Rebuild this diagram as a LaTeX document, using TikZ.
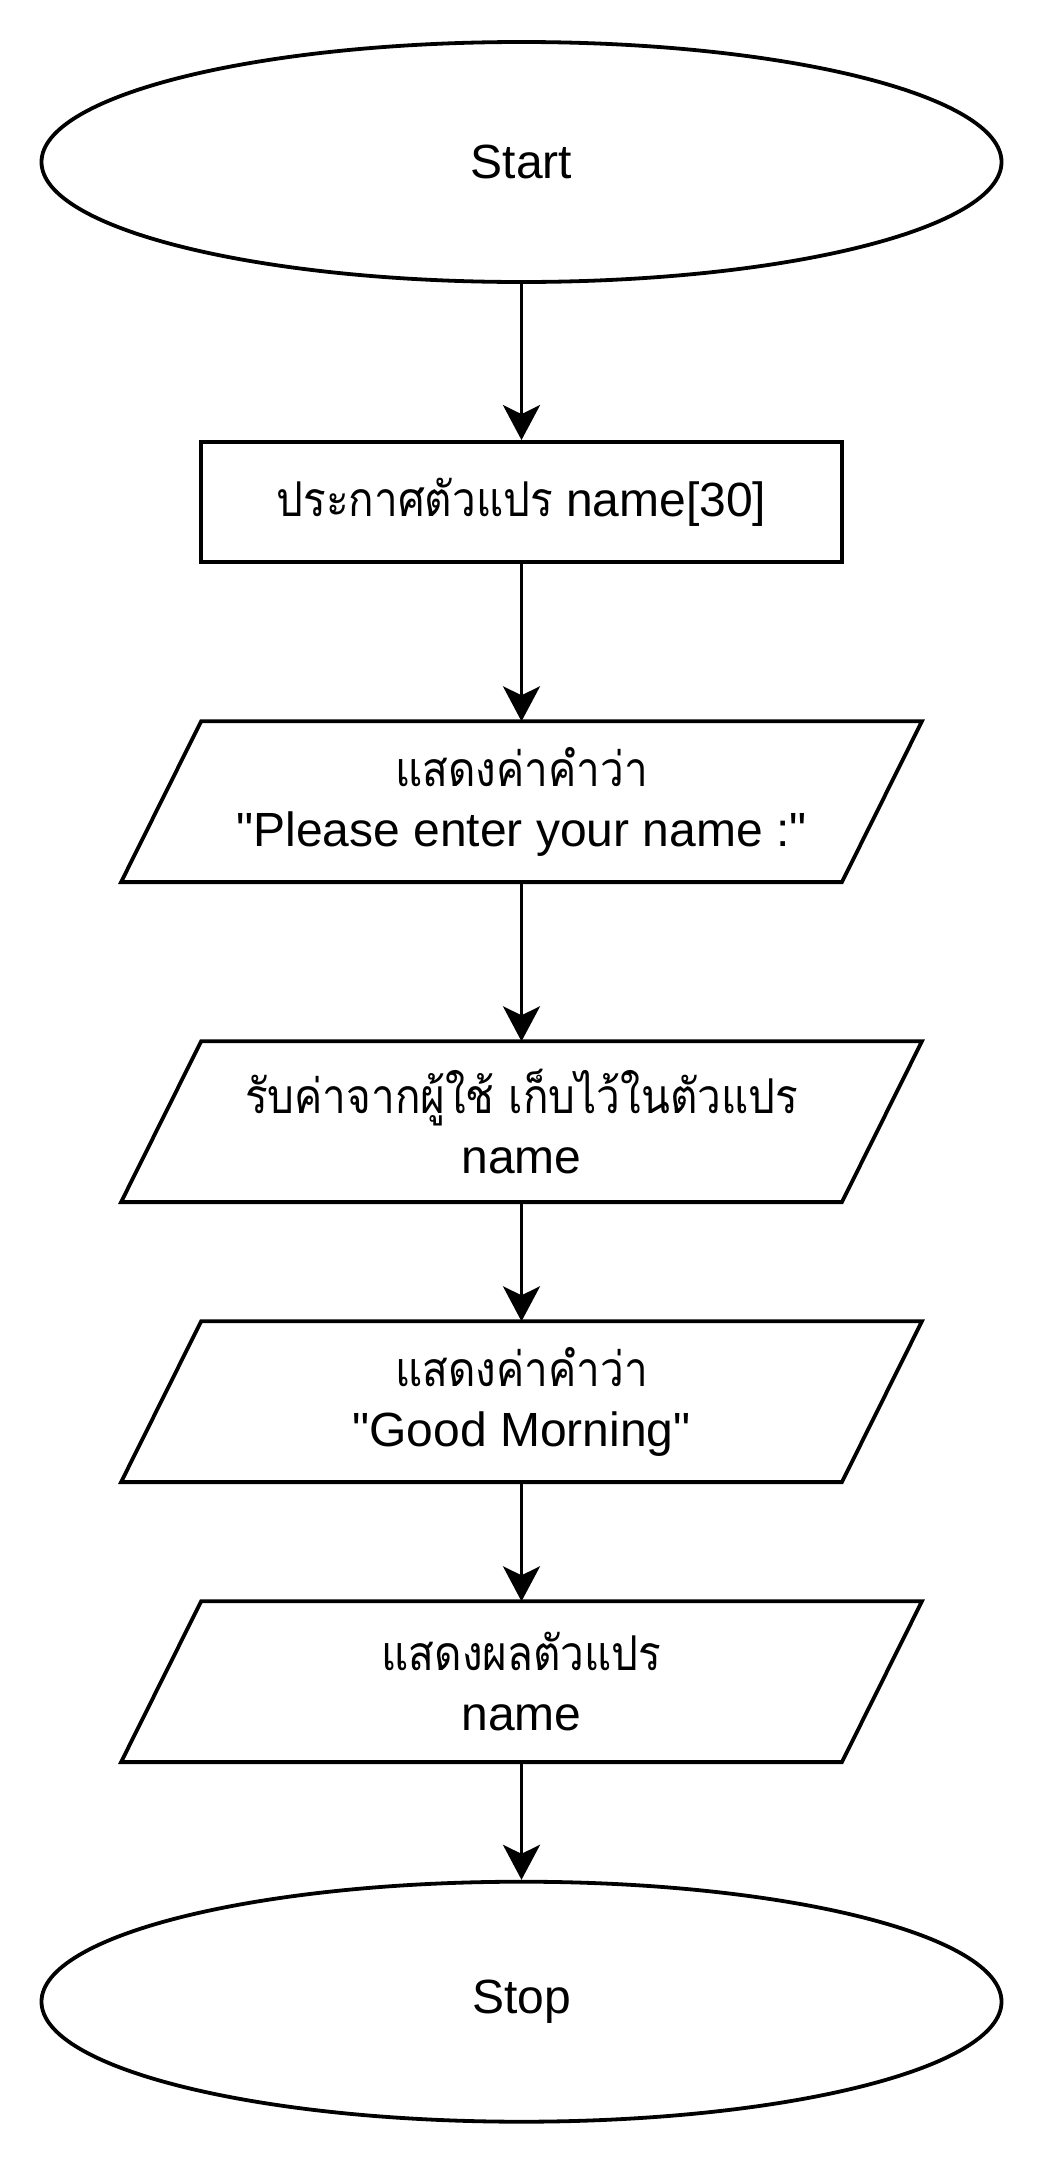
\documentclass[tikz,border=0pt]{standalone}
\usepackage{fontspec}
\setmainfont{Liberation Sans}[Ligatures=TeXOff]
\newfontfamily\thai[Script=Thai,Scale=1.0,FakeStretch=0.88]{Loma}
\usetikzlibrary{arrows.meta,shapes.geometric,calc}
\begin{document}
\begin{tikzpicture}[x=0.5pt,y=-0.5pt,
  every node/.style={font=\fontsize{24}{30}\selectfont, align=center, inner sep=0pt},
  term/.style={ellipse, draw, line width=1.9pt, minimum width=480pt, minimum height=120pt},
  procbox/.style={rectangle, draw, line width=1.9pt, minimum width=320.5pt, minimum height=60pt},
  iobox/.style={rectangle, minimum width=400pt, minimum height=80pt},
  para/.style={line width=1.9pt, line join=miter},
  flow/.style={line width=1.6pt, -{Stealth[length=17.5pt,width=18.5pt,inset=4.5pt]}}
]
\useasboundingbox (0,0) rectangle (1048,2168);
\node[term] (start) at (521.5,162) {Start};
\node[procbox] (decl) at (521.5,502) {{\thai ประกาศตัวแปร} name[30]};
\node[iobox] (p1) at (521.5,801.7) {{\thai แสดงค่าคำว่า}\\"Please enter your name :"};
\node[iobox] (p2) at (521.5,1121.7) {{\thai รับค่าจากผู้ใช้ เก็บไว้ในตัวแปร}\\name};
\node[iobox] (p3) at (521.5,1401.7) {{\thai แสดงค่าคำว่า}\\"Good Morning"};
\node[iobox] (p4) at (521.5,1681.7) {{\thai แสดงผลตัวแปร}\\name};
\node[term] (stop) at (521.5,2001.7) {Stop};
\foreach \p in {p1,p2,p3,p4}
  \draw[para] (\p.south west) -- ($(\p.south east)+(-80,0)$) -- (\p.north east) -- ($(\p.north west)+(80,0)$) -- cycle;
\draw[flow] (start) -- (decl);
\draw[flow] (decl) -- (p1.north);
\draw[flow] (p1.south) -- (p2.north);
\draw[flow] (p2.south) -- (p3.north);
\draw[flow] (p3.south) -- (p4.north);
\draw[flow] (p4.south) -- (stop);
\end{tikzpicture}
\end{document}
